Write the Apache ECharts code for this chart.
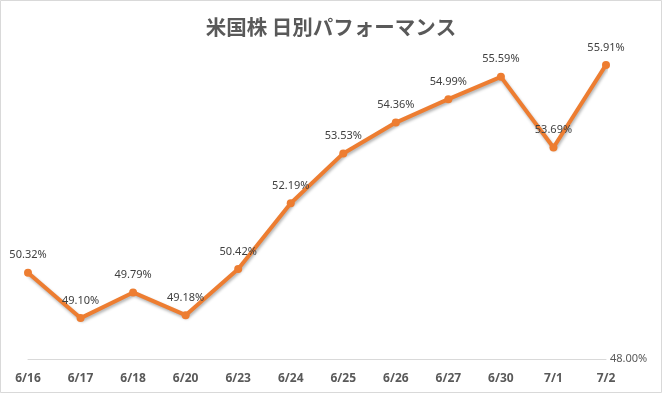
<!DOCTYPE html>
<html><head><meta charset="utf-8">
<script src="https://cdn.jsdelivr.net/npm/echarts@6/dist/echarts.min.js"></script>
<style>html,body{margin:0;padding:0;background:#fff}#c{width:662px;height:393px}</style>
</head><body><div id="c"></div>
<script>
const categories = ['6/16','6/17','6/18','6/20','6/23','6/24','6/25','6/26','6/27','6/30','7/1','7/2'];
const values = [50.32, 49.10, 49.79, 49.18, 50.42, 52.19, 53.53, 54.36, 54.99, 55.59, 53.69, 55.91];
const titleText = '米国株 日別パフォーマンス';
const yMin = 48, yMax = 56;

const chart = echarts.init(document.getElementById('c'));
chart.setOption({
  animation: false,
  backgroundColor: '#fff',
  graphic: [{type:'rect', shape:{x:0.5,y:0.5,width:661,height:392}, style:{fill:'none', stroke:'#d9d9d9', lineWidth:1}, silent:true}],
  title: {text: titleText, left: 'center', top: 12,
    textStyle: {fontFamily: 'Noto Sans CJK JP', fontSize: 20.5, fontWeight: 'bold', color: '#595959'}},
  grid: {left: 28, right: 56, top: 61.6, bottom: 34},
  xAxis: {type: 'category', data: categories, boundaryGap: false,
    axisLine: {lineStyle: {color: '#d9d9d9', width: 1}}, axisTick: {show: false},
    axisLabel: {margin: 14, color: '#595959', fontWeight: 'bold', fontSize: 12, fontFamily: 'Noto Sans'}},
  yAxis: {type: 'value', position: 'right', min: yMin, max: yMax, interval: 8,
    splitLine: {show: false}, axisLine: {show: false}, axisTick: {show: false},
    axisLabel: {showMaxLabel: false, margin: 4, color: '#595959', fontSize: 11, fontFamily: 'Noto Sans',
      formatter: v => v === yMin ? v.toFixed(2) + '%' : ''}},
  series: [{type: 'line', data: values, symbol: 'circle', symbolSize: 8,
    lineStyle: {color: '#ED7D31', width: 4, shadowColor: 'rgba(0,0,0,0.3)', shadowBlur: 3, shadowOffsetX: 1, shadowOffsetY: 2},
    itemStyle: {color: '#ED7D31'},
    label: {show: true, position: 'top', distance: 8, color: '#404040', fontSize: 11, fontFamily: 'Noto Sans',
      formatter: p => p.value.toFixed(2) + '%'}}]
});
</script></body></html>
